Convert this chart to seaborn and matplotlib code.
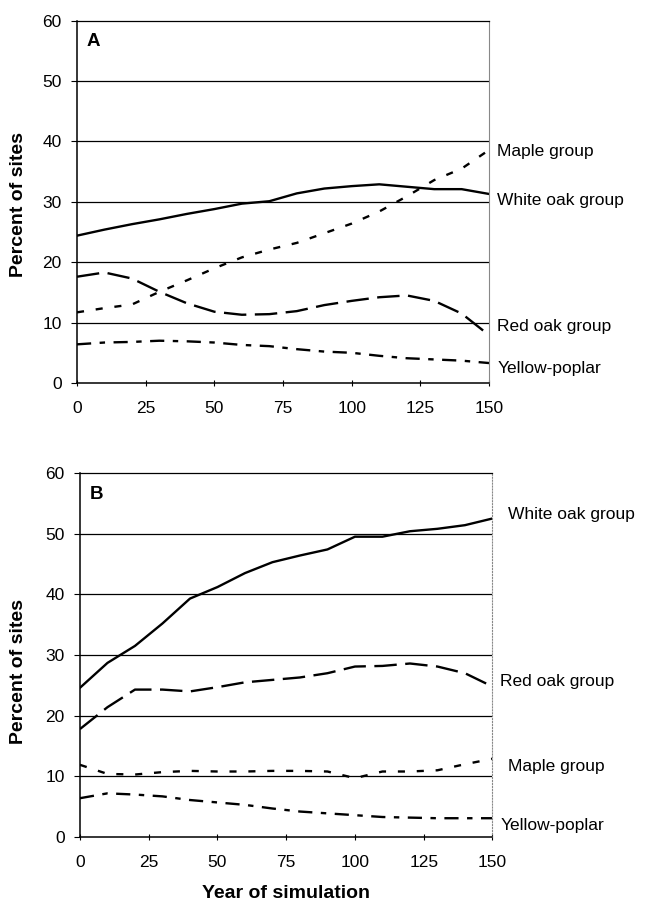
import numpy as np
import pandas as pd
import seaborn as sns
import matplotlib.pyplot as plt

## data (percent of sites, every 10 years)
years = [0, 10, 20, 30, 40, 50, 60, 70, 80, 90, 100, 110, 120, 130, 140, 150]
groups = ["White oak group", "Maple group", "Red oak group", "Yellow-poplar"]

a_white = [24.4, 25.4, 26.3, 27.1, 28.0, 28.8, 29.7, 30.1, 31.4, 32.2, 32.6, 32.9, 32.5, 32.1, 32.1, 31.3]
a_maple = [11.7, 12.4, 13.0, 15.1, 17.0, 19.0, 20.8, 22.1, 23.2, 24.8, 26.4, 28.4, 30.9, 33.6, 35.5, 38.6]
a_red = [17.6, 18.3, 17.3, 15.1, 13.2, 11.8, 11.3, 11.4, 11.9, 12.9, 13.6, 14.2, 14.5, 13.6, 11.5, 7.9]
a_yellow = [6.4, 6.7, 6.8, 7.0, 6.9, 6.7, 6.3, 6.1, 5.6, 5.2, 5.0, 4.5, 4.1, 3.9, 3.7, 3.3]

b_white = [24.6, 28.7, 31.5, 35.2, 39.3, 41.2, 43.5, 45.3, 46.4, 47.4, 49.5, 49.5, 50.4, 50.8, 51.4, 52.5]
b_maple = [11.9, 10.4, 10.3, 10.7, 10.9, 10.8, 10.8, 10.9, 10.9, 10.8, 9.7, 10.8, 10.8, 11.0, 12.0, 12.9]
b_red = [17.8, 21.4, 24.3, 24.3, 24.0, 24.7, 25.5, 25.9, 26.3, 27.0, 28.1, 28.2, 28.6, 28.1, 27.0, 24.8]
b_yellow = [6.4, 7.2, 7.0, 6.7, 6.1, 5.7, 5.3, 4.7, 4.2, 3.9, 3.6, 3.3, 3.2, 3.1, 3.1, 3.1]

x_ticks = [0, 25, 50, 75, 100, 125, 150]
y_ticks = [0, 10, 20, 30, 40, 50, 60]

# label placement (x, y in data units) for the right hand names
a_labels = {"Maple group": (153, 38.4), "White oak group": (153, 30.3),
            "Red oak group": (153, 9.4), "Yellow-poplar": (153, 2.4)}
b_labels = {"White oak group": (155.5, 53.2), "Red oak group": (152.8, 25.6),
            "Maple group": (155.5, 11.6), "Yellow-poplar": (152.8, 1.9)}


def long_df(white, maple, red, yellow):
    parts = []
    for name, vals in zip(groups, [white, maple, red, yellow]):
        parts.append(pd.DataFrame({"year": years, "pct": vals, "group": name}))
    return pd.concat(parts, ignore_index=True)


df_a = long_df(a_white, a_maple, a_red, a_yellow)
df_b = long_df(b_white, b_maple, b_red, b_yellow)

sns.set_style("white")
plt.rcParams['font.family'] = ['Liberation Sans', 'DejaVu Sans']
plt.rcParams['text.color'] = 'black'
plt.rcParams['axes.labelcolor'] = 'black'
plt.rcParams['xtick.color'] = 'black'
plt.rcParams['ytick.color'] = 'black'

dash_map = {"White oak group": "", "Maple group": (3.0, 5.0),
            "Red oak group": (9.5, 3.6), "Yellow-poplar": (6, 3.6, 2.3, 3.6)}

fig = plt.figure(figsize=(6.61, 9.11), dpi=100)
ax_a = fig.add_axes([0.1165, 0.5796, 0.6235, 0.3977])
ax_b = fig.add_axes([0.121, 0.0812, 0.624, 0.3996])


def style_panel(ax, df, letter, labels, right_ls):
    sns.lineplot(data=df, x="year", y="pct", style="group", dashes=dash_map,
                 color="black", linewidth=1.7, legend=False, ax=ax,
                 style_order=groups)
    ax.set_xlim(0, 150)
    ax.set_ylim(0, 60)
    ax.set_xticks(x_ticks)
    ax.set_yticks(y_ticks)
    for v in y_ticks[1:-1]:
        ax.axhline(v, color="black", lw=0.9, zorder=0)
    ax.tick_params(axis="both", labelsize=12.5, colors="black")
    ax.tick_params(axis="y", direction="out", length=4, width=0.8, left=True, pad=7)
    ax.tick_params(axis="x", direction="inout", length=4, width=0.8, bottom=True, pad=11)
    for side in ["left", "bottom"]:
        ax.spines[side].set_color("black")
        ax.spines[side].set_linewidth(1.1)
    ax.spines["top"].set_color("black")
    ax.spines["top"].set_linewidth(0.9)
    ax.spines["right"].set_color("#888888")
    ax.spines["right"].set_linewidth(0.8)
    ax.spines["right"].set_linestyle(right_ls)
    ax.set_xlabel("")
    ax.set_ylabel("")
    ax.text(0.024, 0.942, letter, transform=ax.transAxes, fontsize=13.5,
            fontweight="bold", ha="left", va="center")
    for name, (lx, ly) in labels.items():
        ax.text(lx, ly, name, fontsize=12.5, ha="left", va="center", clip_on=False)


style_panel(ax_a, df_a, "A", a_labels, "-")
style_panel(ax_b, df_b, "B", b_labels, ":")

fig.text(18.5 / 661, 1 - 205 / 911, "Percent of sites", rotation=90, fontsize=14,
         fontweight="bold", ha="center", va="center")
fig.text(18.5 / 661, 1 - 672 / 911, "Percent of sites", rotation=90, fontsize=14,
         fontweight="bold", ha="center", va="center")
fig.text((80 + 492.7) / 2 / 661, 1 - 893 / 911, "Year of simulation", fontsize=14,
         fontweight="bold", ha="center", va="center")

fig.savefig("out.png", dpi=100, facecolor="white")
